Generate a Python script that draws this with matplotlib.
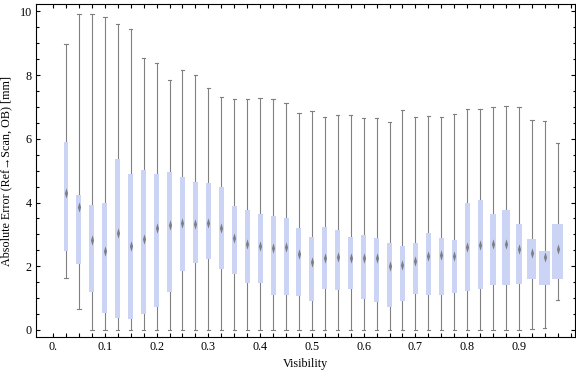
import matplotlib
matplotlib.use('Agg')
import matplotlib.pyplot as plt
import numpy as np
from matplotlib.path import Path

# box-whisker stats per visibility bin
visibility = np.arange(1, 40) * 0.025
whisker_lo = [1.63, 0.65, 0, 0, 0, 0, 0, 0, 0, 0, 0, 0, 0, 0, 0, 0, 0, 0, 0, 0,
              0, 0, 0, 0, 0, 0, 0, 0, 0, 0, 0, 0, 0, 0, 0, 0, 0.02, 0.05, 0.93]
q1 = [2.49, 2.07, 1.20, 0.54, 0.39, 0.36, 0.51, 0.73, 1.19, 1.86, 2.11, 2.24, 1.90,
      1.76, 1.48, 1.48, 1.09, 1.11, 1.06, 0.92, 1.30, 1.27, 1.28, 0.98, 0.89, 0.71,
      0.92, 1.14, 1.11, 1.11, 1.17, 1.23, 1.30, 1.42, 1.42, 1.45, 1.61, 1.41, 1.59]
median = [4.29, 3.87, 2.82, 2.49, 3.03, 2.64, 2.84, 3.21, 3.29, 3.35, 3.33, 3.35, 3.21,
          2.90, 2.69, 2.64, 2.58, 2.59, 2.37, 2.13, 2.25, 2.28, 2.27, 2.25, 2.27, 2.01,
          2.04, 2.17, 2.32, 2.36, 2.33, 2.59, 2.67, 2.69, 2.71, 2.55, 2.41, 2.30, 2.53]
q3 = [5.90, 4.24, 3.92, 3.98, 5.37, 4.91, 5.02, 4.89, 4.96, 4.80, 4.64, 4.61, 4.49,
      3.89, 3.76, 3.64, 3.57, 3.50, 3.20, 2.91, 3.22, 3.14, 2.91, 2.98, 2.88, 2.72,
      2.63, 2.72, 3.03, 2.88, 2.82, 3.97, 4.07, 3.64, 3.76, 3.33, 2.86, 2.48, 3.33]
whisker_hi = [8.97, 9.90, 9.90, 9.81, 9.59, 9.43, 8.52, 8.37, 7.83, 8.15, 7.99, 7.58, 7.32,
              7.26, 7.26, 7.29, 7.26, 7.11, 6.80, 6.86, 6.67, 6.74, 6.74, 6.65, 6.65, 6.52,
              6.89, 6.67, 6.70, 6.67, 6.77, 6.92, 6.92, 6.99, 7.02, 6.99, 6.59, 6.55, 5.86]
# relative box widths (sample size)
rel_width = [0.65] + [1.0] * 32 + [1.05, 1.4, 1.35, 1.8, 2.25, 2.2, 1.65]
x_ticks = [0.0, 0.1, 0.2, 0.3, 0.4, 0.5, 0.6, 0.7, 0.8, 0.9]
x_ticklabels = ['0.', '0.1', '0.2', '0.3', '0.4', '0.5', '0.6', '0.7', '0.8', '0.9']

serif = ['Liberation Serif', 'DejaVu Serif']
fs = 8.7
box_color = '#CCD4F6'
line_color = '#808080'

fig = plt.figure(figsize=(5.76, 3.77), dpi=100)
ax = fig.add_axes([0.0625, 0.1053, 0.9355, 0.8833])

base_w = 0.0097
cap_w = 0.0032
diamond = Path([(0, 1), (0.3, 0), (0, -1), (-0.3, 0), (0, 1)],
               [Path.MOVETO, Path.LINETO, Path.LINETO, Path.LINETO, Path.CLOSEPOLY])

for i, x in enumerate(visibility):
	w = base_w * rel_width[i]
	ax.plot([x, x], [whisker_lo[i], whisker_hi[i]], color=line_color, lw=0.8, zorder=1)
	for y in (whisker_lo[i], whisker_hi[i]):
		ax.plot([x - cap_w, x + cap_w], [y, y], color=line_color, lw=0.8, zorder=1)
	ax.add_patch(plt.Rectangle((x - w / 2, q1[i]), w, q3[i] - q1[i],
	                           facecolor=box_color, edgecolor='none', zorder=2))

ax.plot(visibility, median, linestyle='none', marker=diamond, markersize=7.5,
        color='#757575', markeredgewidth=0, alpha=0.9, zorder=3)

ax.set_xlim(-0.033, 1.008)
ax.set_ylim(-0.23, 10.22)

ax.set_xticks(x_ticks)
ax.set_xticklabels(x_ticklabels)
ax.set_xticks(np.arange(0, 1.01, 0.025), minor=True)
ax.set_yticks([0, 2, 4, 6, 8, 10])
ax.set_yticks(np.arange(0, 10.01, 0.5), minor=True)

ax.tick_params(which='both', direction='in', top=True, right=True, labelsize=fs,
               width=0.8, pad=3)
ax.tick_params(axis='x', which='both', length=3)
ax.tick_params(axis='y', which='major', length=3)
ax.tick_params(axis='y', which='minor', length=1.8)
for lbl in ax.get_xticklabels() + ax.get_yticklabels():
	lbl.set_family(serif)
for s in ax.spines.values():
	s.set_linewidth(0.8)

ax.set_xlabel('Visibility', family=serif, fontsize=fs, labelpad=3)
ax.set_ylabel('Absolute Error (Ref\u2192Scan, OB) [mm]', family=serif, fontsize=fs, labelpad=5)

fig.savefig('out.png', dpi=100)
